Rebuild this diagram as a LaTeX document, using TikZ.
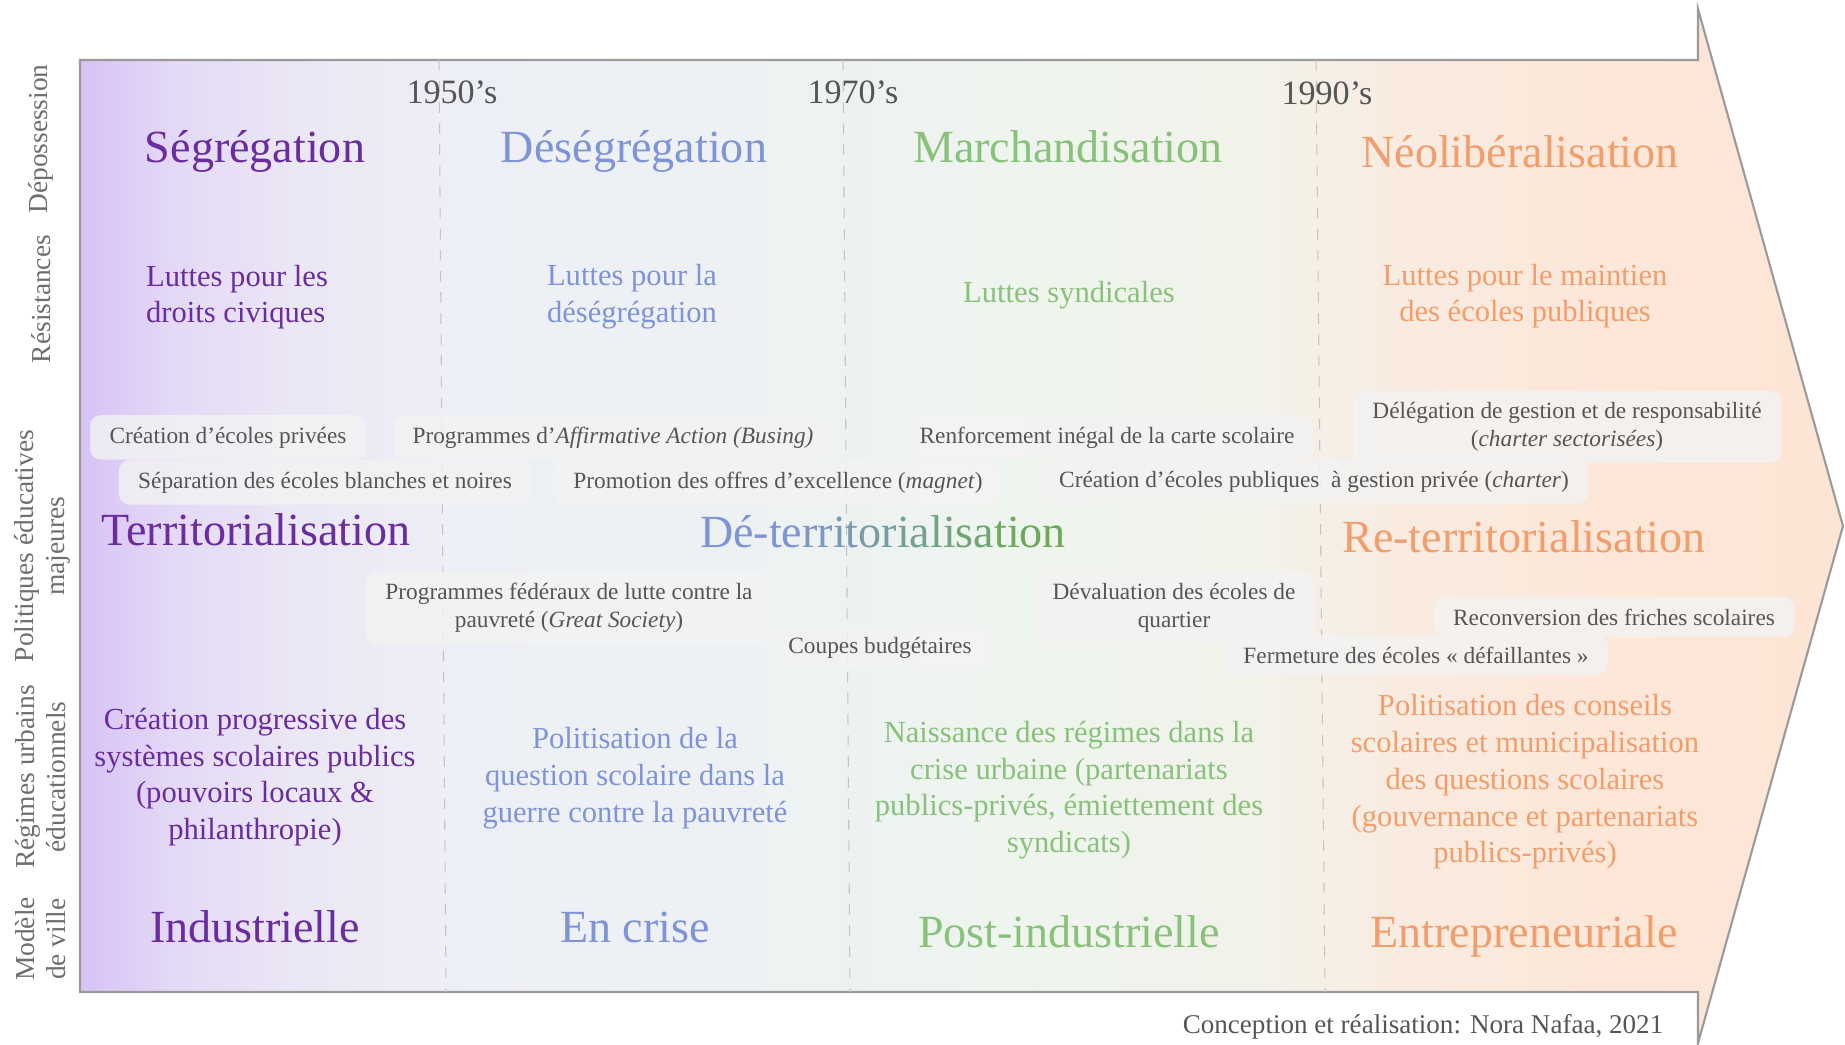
\documentclass[tikz,border=0pt]{standalone}
\usepackage{fontspec}
\setmainfont{Liberation Serif}
\usepackage{xcolor}
\usepackage{tikz}
\usetikzlibrary{positioning}

\definecolor{segpurple}{HTML}{6A2C9E}
\definecolor{desblue}{HTML}{7F94D6}
\definecolor{margreen}{HTML}{88C27A}
\definecolor{neoorange}{HTML}{F29E6C}
\definecolor{detgreen}{HTML}{6CAA58}
\definecolor{labelgray}{HTML}{6E6E6E}
\definecolor{textgray}{HTML}{555555}
\definecolor{boxgray}{HTML}{F3F3F3}
\definecolor{rulegray}{HTML}{C4C4C4}
\definecolor{framegray}{HTML}{9A9A9A}
\definecolor{tlA}{HTML}{D9C4F6}
\definecolor{tlB}{HTML}{E4D9F6}
\definecolor{tlC}{HTML}{EBE7F5}
\definecolor{tlD}{HTML}{EDEFF6}
\definecolor{tlE}{HTML}{EDF2F2}
\definecolor{tlF}{HTML}{EEF4EE}
\definecolor{tlG}{HTML}{F1F3EA}
\definecolor{tlH}{HTML}{F9EBE0}
\definecolor{tlI}{HTML}{FCE7D9}
\definecolor{tlJ}{HTML}{FDE5D5}

\pgfdeclarehorizontalshading{timeline}{100bp}{color(0bp)=(tlA); color(25.2bp)=(tlA);
  color(27.7bp)=(tlB); color(31.1bp)=(tlC); color(36bp)=(tlD); color(46.1bp)=(tlE);
  color(51.1bp)=(tlF); color(57.9bp)=(tlG); color(62.7bp)=(tlH); color(68.1bp)=(tlI);
  color(75bp)=(tlJ); color(100bp)=(tlJ)}

% blue to green lettering
\newcommand{\deterr}{{\color{desblue}Dé-te}{\color{desblue!85!detgreen}rr}%
  {\color{desblue!72!detgreen}it}{\color{desblue!58!detgreen}or}%
  {\color{desblue!45!detgreen}ia}{\color{desblue!32!detgreen}li}%
  {\color{desblue!18!detgreen}sa}{\color{detgreen}tion}}

\begin{document}
\begin{tikzpicture}[x=0.01cm, y=-0.01cm,
    big/.style={font=\fontsize{13.1}{15.7}\selectfont, inner sep=0pt, anchor=base},
    med/.style={font=\fontsize{8.7}{10.44}\selectfont, inner sep=0pt, align=center},
    pol/.style={font=\fontsize{6.63}{7.97}\selectfont, text=textgray, fill=boxgray,
                fill opacity=0.8, text opacity=1, rounded corners=3pt,
                inner xsep=5.5pt, inner ysep=3.3pt, align=center},
    year/.style={font=\fontsize{9.7}{11}\selectfont, text=textgray, inner sep=0pt, anchor=base},
    side/.style={font=\fontsize{7.8}{8.8}\selectfont, text=labelgray, rotate=90,
                 inner sep=0pt, align=center},
    divider/.style={draw=rulegray, dashed, line width=0.3pt},
  ]
    \useasboundingbox (0,0) rectangle (1845,1044);

    % timeline arrow
    \path[draw=framegray, line width=0.6pt, shading=timeline]
      (80,60) -- (1698,60) -- (1698,9) -- (1843,526) -- (1698,1043)
      -- (1698,992) -- (80,992) -- cycle;
    \draw[divider] (439,60) -- (446,992);
    \draw[divider] (843,60) -- (850,992);
    \draw[divider] (1316,60) -- (1325,992);

    % row labels
    \node[side] (lbldep) at (41,139) {Dépossession};
    \node[side] (lblres) at (41,299) {Résistances};
    \node[side] (lblpol) at (42,546) {Politiques éducatives\\majeures};
    \node[side] (lblreg) at (41,777) {Régimes urbains\\éducationnels};
    \node[side] (lblmod) at (41,939) {Modèle\\de ville};

    % decades
    \node[year] (y50) at (452,103) {1950's};
    \node[year] (y70) at (853,103) {1970's};
    \node[year] (y90) at (1327,104) {1990's};

    % depossession
    \node[big, text=segpurple] (seg) at (255,162) {Ségrégation};
    \node[big, text=desblue]   (deseg) at (634,162) {Déségrégation};
    \node[big, text=margreen]  (march) at (1068,162) {Marchandisation};
    \node[big, text=neoorange] (neolib) at (1520,167) {Néolibéralisation};

    % resistances
    \node[med, text=segpurple, align=left] (resseg) at (237,297) {Luttes pour les\\droits civiques};
    \node[med, text=desblue, align=left] (resdes) at (632,297) {Luttes pour la\\déségrégation};
    \node[med, text=margreen, anchor=base] (resmar) at (1069,302) {Luttes syndicales};
    \node[med, text=neoorange] (resneo) at (1525,296) {Luttes pour le maintien\\des écoles publiques};

    % educational policies
    \node[pol, anchor=base] (prive) at (228,443) {Création d'écoles privées};
    \node[pol, anchor=base] (separ) at (325,488) {Séparation des écoles blanches et noires};
    \node[pol, anchor=base] (busing) at (613,443) {Programmes d'\textit{Affirmative Action (Busing)}};
    \node[pol, anchor=base] (magnet) at (778,488) {Promotion des offres d'excellence (\textit{magnet})};
    \node[pol, anchor=base] (carte) at (1107,443) {Renforcement inégal de la carte scolaire};
    \node[pol] (deleg) at (1567,427) {Délégation de gestion et de responsabilité\\(\textit{charter sectorisées})};
    \node[pol, anchor=base] (charter) at (1314,487) {Création d'écoles publiques\ \ à gestion privée (\textit{charter})};

    \node[big, text=segpurple] (terr) at (256,545) {Territorialisation};
    \node[big] (deterr) at (883,547) {\deterr};
    \node[big, text=neoorange] (reterr) at (1524,552) {Re-territorialisation};

    \node[pol] (greatsoc) at (569,608) {Programmes fédéraux de lutte contre la\\pauvreté (\textit{Great Society})};
    \node[pol] (deval) at (1174,608) {Dévaluation des écoles de\\quartier};
    \node[pol, anchor=base] (friches) at (1614,625) {Reconversion des friches scolaires};
    \node[pol, anchor=base] (coupes) at (880,653) {Coupes budgétaires};
    \node[pol, anchor=base] (fermet) at (1416,663) {Fermeture des écoles « défaillantes »};

    % urban educational regimes
    \node[med, text=segpurple] (regseg) at (255,777)
      {Création progressive des\\systèmes scolaires publics\\(pouvoirs locaux \&\\philanthropie)};
    \node[med, text=desblue] (regdes) at (635,778)
      {Politisation de la\\question scolaire dans la\\guerre contre la pauvreté};
    \node[med, text=margreen] (regmar) at (1069,790)
      {Naissance des régimes dans la\\crise urbaine (partenariats\\publics-privés, émiettement des\\syndicats)};
    \node[med, text=neoorange] (regneo) at (1525,782)
      {Politisation des conseils\\scolaires et municipalisation\\des questions scolaires\\(gouvernance et partenariats\\publics-privés)};

    % city model
    \node[big, text=segpurple] (indus) at (255,942) {Industrielle};
    \node[big, text=desblue]   (crise) at (635,942) {En crise};
    \node[big, text=margreen]  (postind) at (1069,947) {Post-industrielle};
    \node[big, text=neoorange] (entrep) at (1524,947) {Entrepreneuriale};

    \node[font=\fontsize{7.7}{9}\selectfont, text=textgray, inner sep=0pt, anchor=base]
      (credit) at (1423,1033) {Conception et réalisation: Nora Nafaa, 2021};
\end{tikzpicture}
\end{document}
